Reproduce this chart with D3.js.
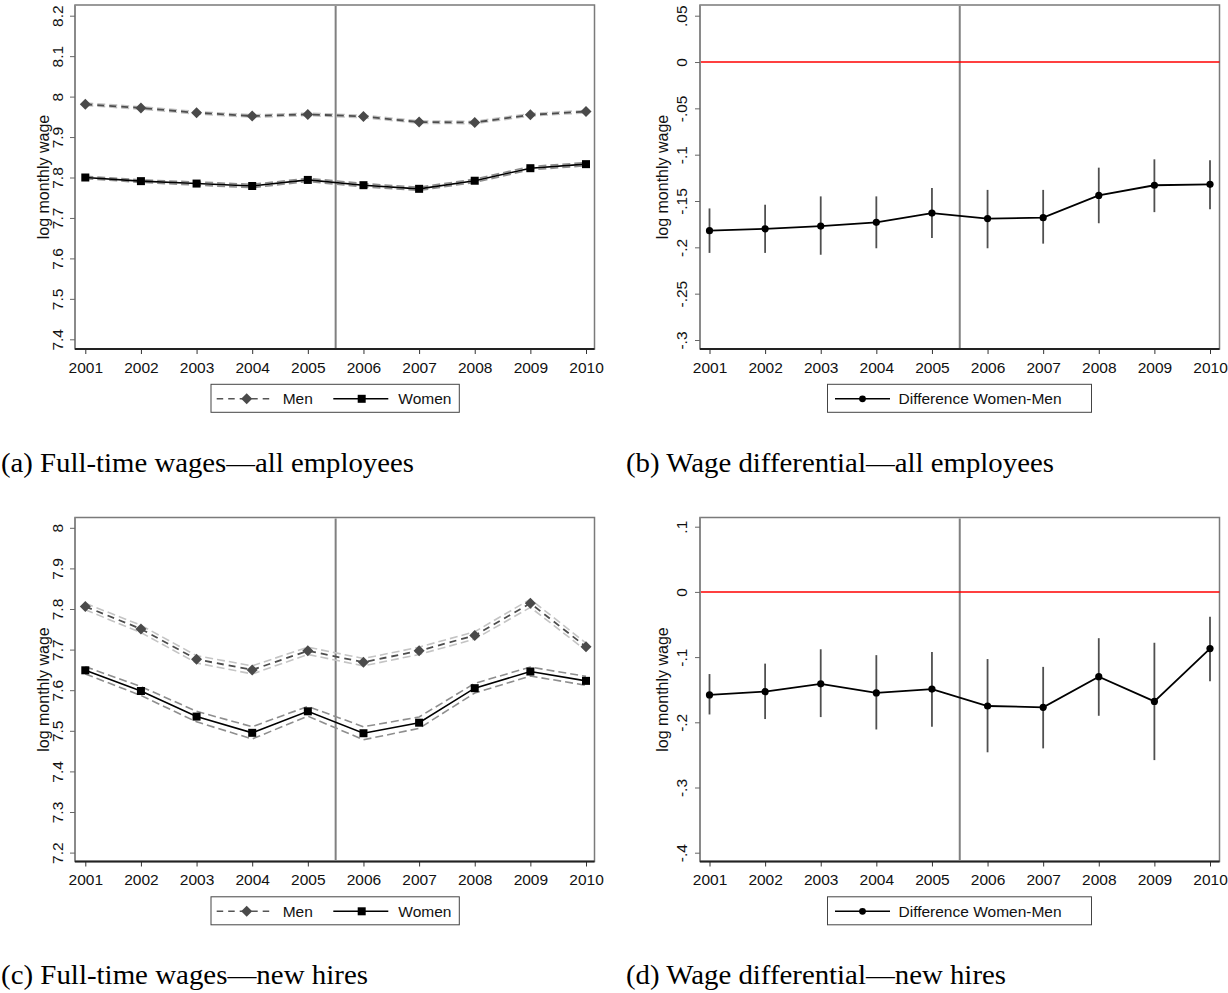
<!DOCTYPE html>
<html><head><meta charset="utf-8">
<script src="https://cdn.jsdelivr.net/npm/d3@7"></script>
<style>html,body{margin:0;padding:0;background:#fff;}svg{display:block;}</style>
</head><body>
<svg id="chart" width="1228" height="993"></svg>
<script>
const years = [2001,2002,2003,2004,2005,2006,2007,2008,2009,2010];

// Panel (a): full-time wages, all employees
const menA      = [7.981,7.972,7.960,7.952,7.956,7.951,7.937,7.936,7.955,7.963];
const menA_lo   = [7.978,7.969,7.957,7.949,7.953,7.948,7.934,7.933,7.952,7.960];
const menA_hi   = [7.984,7.975,7.963,7.955,7.959,7.954,7.940,7.939,7.958,7.966];
const womenA    = [7.800,7.791,7.785,7.779,7.794,7.781,7.772,7.792,7.823,7.833];
const womenA_lo = [7.797,7.788,7.781,7.775,7.790,7.777,7.768,7.788,7.819,7.829];
const womenA_hi = [7.803,7.794,7.789,7.783,7.798,7.785,7.776,7.796,7.827,7.837];

// Panel (c): full-time wages, new hires
const menC      = [7.806,7.751,7.676,7.650,7.697,7.669,7.697,7.735,7.814,7.707];
const menC_lo   = [7.798,7.742,7.667,7.640,7.688,7.660,7.688,7.726,7.804,7.698];
const menC_hi   = [7.814,7.760,7.685,7.660,7.706,7.678,7.706,7.744,7.824,7.716];
const womenC    = [7.649,7.598,7.535,7.495,7.548,7.494,7.520,7.605,7.646,7.623];
const womenC_lo = [7.640,7.587,7.522,7.480,7.536,7.478,7.506,7.593,7.635,7.612];
const womenC_hi = [7.658,7.609,7.548,7.510,7.560,7.510,7.534,7.617,7.657,7.634];

// Panel (b): wage differential, all employees
const diffB    = [-0.182,-0.180,-0.177,-0.173,-0.163,-0.169,-0.168,-0.144,-0.133,-0.132];
const diffB_lo = [-0.206,-0.206,-0.208,-0.201,-0.190,-0.201,-0.196,-0.174,-0.162,-0.159];
const diffB_hi = [-0.158,-0.154,-0.145,-0.145,-0.136,-0.138,-0.138,-0.114,-0.105,-0.106];

// Panel (d): wage differential, new hires
const diffD    = [-0.158,-0.153,-0.141,-0.155,-0.149,-0.175,-0.177,-0.130,-0.168,-0.087];
const diffD_lo = [-0.188,-0.195,-0.192,-0.211,-0.207,-0.246,-0.240,-0.190,-0.258,-0.137];
const diffD_hi = [-0.126,-0.110,-0.088,-0.097,-0.092,-0.103,-0.115,-0.071,-0.078,-0.038];

const ticksA = [7.4,7.5,7.6,7.7,7.8,7.9,8.0,8.1,8.2];
const tickLabelsA = ["7.4","7.5","7.6","7.7","7.8","7.9","8","8.1","8.2"];
const ticksC = [7.2,7.3,7.4,7.5,7.6,7.7,7.8,7.9,8.0];
const tickLabelsC = ["7.2","7.3","7.4","7.5","7.6","7.7","7.8","7.9","8"];
const ticksB = [0.05,0,-0.05,-0.1,-0.15,-0.2,-0.25,-0.3];
const tickLabelsB = [".05","0","-.05","-.1","-.15","-.2","-.25","-.3"];
const ticksD = [0.1,0,-0.1,-0.2,-0.3,-0.4];
const tickLabelsD = [".1","0","-.1","-.2","-.3","-.4"];

const yTitle = "log monthly wage";
const legendMen = "Men", legendWomen = "Women", legendDiff = "Difference Women-Men";
const captions = ["(a) Full-time wages\u2014all employees","(b) Wage differential\u2014all employees",
                  "(c) Full-time wages\u2014new hires","(d) Wage differential\u2014new hires"];

const svg = d3.select("#chart");
const SANS = "'Liberation Sans', Arial, sans-serif";
const SERIF = "'Liberation Serif', 'Times New Roman', serif";

function panel(opt){
  const {left, right, top, bottom, x0, x1, yDomain, yRange, ticks, labels, tickLabelOff, titleOff} = opt;
  const g = svg.append("g");
  const x = d3.scaleLinear().domain([2001,2010]).range([x0,x1]);
  const y = d3.scaleLinear().domain(yDomain).range(yRange);
  g.append("rect").attr("x",left).attr("y",top).attr("width",right-left).attr("height",bottom-top)
    .attr("fill","#fff").attr("stroke","#7a7a7a").attr("stroke-width",1.5);
  g.append("line").attr("x1",left).attr("x2",left).attr("y1",top).attr("y2",bottom)
    .attr("stroke","#8a8a8a").attr("stroke-width",2);
  const ya = d3.axisLeft(y).tickValues(ticks).tickSize(5).tickFormat((d,i)=>labels[i]);
  const yg = g.append("g").attr("transform",`translate(${left},0)`).call(ya);
  yg.select(".domain").remove();
  yg.selectAll(".tick line").attr("stroke","#666").attr("stroke-width",1);
  yg.selectAll(".tick text").attr("x",0).attr("dy",0).attr("text-anchor","middle")
    .attr("transform",`translate(${-tickLabelOff},0) rotate(-90)`)
    .attr("font-family",SANS).attr("font-size","15.5px").attr("fill","#111");
  g.append("text").attr("transform",`translate(${left-titleOff},${(top+bottom)/2}) rotate(-90)`)
    .attr("text-anchor","middle").attr("font-family",SANS).attr("font-size","16px").attr("fill","#111").text(yTitle);
  const xa = d3.axisBottom(x).tickValues(years).tickSize(5).tickFormat(d3.format("d"));
  const xg = g.append("g").attr("transform",`translate(0,${bottom})`).call(xa);
  xg.select(".domain").remove();
  xg.selectAll(".tick line").attr("stroke","#333").attr("stroke-width",1);
  xg.selectAll(".tick text").attr("y",23.5).attr("dy",0).attr("font-family",SANS).attr("font-size","15.5px").attr("fill","#111");
  g.append("line").attr("x1",left).attr("x2",right).attr("y1",bottom).attr("y2",bottom)
    .attr("stroke","#222").attr("stroke-width",2);
  return {g,x,y};
}

function vline(p, top, bottom){
  p.g.append("line").attr("x1",p.x(2005.5)).attr("x2",p.x(2005.5)).attr("y1",top+1).attr("y2",bottom-1)
    .attr("stroke","#808080").attr("stroke-width",2);
}

function diamond(g, cx, cy, r, fill){
  g.append("path").attr("d",`M${cx},${cy-r}L${cx+r},${cy}L${cx},${cy+r}L${cx-r},${cy}Z`).attr("fill",fill);
}

function wagesPanel(p, men, menLo, menHi, women, womenLo, womenHi){
  const line = d3.line().x((d,i)=>p.x(years[i])).y(d=>p.y(d));
  [menLo,menHi].forEach(arr=>p.g.append("path").attr("d",line(arr)).attr("fill","none")
      .attr("stroke","#c4c4c4").attr("stroke-width",1.6).attr("stroke-dasharray","8,4"));
  [womenLo,womenHi].forEach(arr=>p.g.append("path").attr("d",line(arr)).attr("fill","none")
      .attr("stroke","#8e8e8e").attr("stroke-width",1.6).attr("stroke-dasharray","8,4"));
  p.g.append("path").attr("d",line(men)).attr("fill","none").attr("stroke","#4d4d4d")
    .attr("stroke-width",1.8).attr("stroke-dasharray","7,5");
  p.g.append("path").attr("d",line(women)).attr("fill","none").attr("stroke","#000").attr("stroke-width",1.6);
  men.forEach((v,i)=>diamond(p.g,p.x(years[i]),p.y(v),5.5,"#4a4a4a"));
  women.forEach((v,i)=>p.g.append("rect").attr("x",p.x(years[i])-4).attr("y",p.y(v)-4)
      .attr("width",8).attr("height",8).attr("fill","#000"));
}

function diffPanel(p, d, lo, hi, left, right){
  p.g.append("line").attr("x1",left+1).attr("x2",right).attr("y1",p.y(0)).attr("y2",p.y(0))
    .attr("stroke","#ff0000").attr("stroke-width",1.5);
  d.forEach((v,i)=>p.g.append("line").attr("x1",p.x(years[i])).attr("x2",p.x(years[i]))
      .attr("y1",p.y(lo[i])).attr("y2",p.y(hi[i])).attr("stroke","#505050").attr("stroke-width",1.8));
  const line = d3.line().x((v,i)=>p.x(years[i])).y(v=>p.y(v));
  p.g.append("path").attr("d",line(d)).attr("fill","none").attr("stroke","#000").attr("stroke-width",1.8);
  d.forEach((v,i)=>p.g.append("circle").attr("cx",p.x(years[i])).attr("cy",p.y(v)).attr("r",3.6).attr("fill","#000"));
}

function legendWages(x0, y0){
  const g = svg.append("g");
  g.append("rect").attr("x",x0).attr("y",y0).attr("width",248.3).attr("height",28)
    .attr("fill","#fff").attr("stroke","#444").attr("stroke-width",1);
  const cy = y0+14.5;
  g.append("line").attr("x1",x0+5.7).attr("x2",x0+61.7).attr("y1",cy).attr("y2",cy)
    .attr("stroke","#555").attr("stroke-width",1.6).attr("stroke-dasharray","6.5,5");
  diamond(g,x0+35.7,cy,5.5,"#4a4a4a");
  g.append("text").attr("x",x0+71.7).attr("y",y0+20).attr("font-family",SANS).attr("font-size","15.5px").attr("fill","#111").text(legendMen);
  g.append("line").attr("x1",x0+122.3).attr("x2",x0+177.3).attr("y1",cy).attr("y2",cy)
    .attr("stroke","#000").attr("stroke-width",1.6);
  g.append("rect").attr("x",x0+150.7-4).attr("y",cy-4).attr("width",8).attr("height",8).attr("fill","#000");
  g.append("text").attr("x",x0+187.3).attr("y",y0+20).attr("font-family",SANS).attr("font-size","15.5px").attr("fill","#111").text(legendWomen);
}

function legendDiffBox(x0, y0){
  const g = svg.append("g");
  g.append("rect").attr("x",x0).attr("y",y0).attr("width",264).attr("height",28)
    .attr("fill","#fff").attr("stroke","#444").attr("stroke-width",1);
  const cy = y0+14.5;
  g.append("line").attr("x1",x0+7.5).attr("x2",x0+62.5).attr("y1",cy).attr("y2",cy)
    .attr("stroke","#000").attr("stroke-width",1.6);
  g.append("circle").attr("cx",x0+35).attr("cy",cy).attr("r",3.4).attr("fill","#000");
  g.append("text").attr("x",x0+71).attr("y",y0+20).attr("font-family",SANS).attr("font-size","15.5px").attr("fill","#111").text(legendDiff);
}

const DY = 512.5;
const pa = panel({left:75,right:594.5,top:5,bottom:349,x0:85.3,x1:586,yDomain:[7.4,8.2],yRange:[339.3,15.7],
  ticks:ticksA,labels:tickLabelsA,tickLabelOff:12.5,titleOff:26});
vline(pa,5,349);
wagesPanel(pa,menA,menA_lo,menA_hi,womenA,womenA_lo,womenA_hi);
const pb = panel({left:700,right:1219.5,top:5,bottom:349,x0:709.5,x1:1210,yDomain:[-0.3,0.05],yRange:[340,15.7],
  ticks:ticksB,labels:tickLabelsB,tickLabelOff:13,titleOff:32.5});
vline(pb,5,349);
diffPanel(pb,diffB,diffB_lo,diffB_hi,700,1219.5);
const pc = panel({left:75,right:594.5,top:5+DY,bottom:349+DY,x0:85.3,x1:586,yDomain:[7.2,8.0],yRange:[852.6,527.8],
  ticks:ticksC,labels:tickLabelsC,tickLabelOff:12.5,titleOff:26});
vline(pc,5+DY,349+DY);
wagesPanel(pc,menC,menC_lo,menC_hi,womenC,womenC_lo,womenC_hi);
const pd = panel({left:700,right:1219.5,top:5+DY,bottom:349+DY,x0:709.5,x1:1210,yDomain:[-0.4,0.1],yRange:[852.7,526.7],
  ticks:ticksD,labels:tickLabelsD,tickLabelOff:13,titleOff:32.5});
vline(pd,5+DY,349+DY);
diffPanel(pd,diffD,diffD_lo,diffD_hi,700,1219.5);

legendWages(211,384.3);
legendWages(211,384.3+DY);
legendDiffBox(827.5,384.3);
legendDiffBox(827.5,384.3+DY);

const capPos = [[1,471.7],[626,471.7],[1,471.7+DY],[626,471.7+DY]];
const capWidths = [413,428,367,380];
captions.forEach((c,i)=>svg.append("text").attr("x",capPos[i][0]).attr("y",capPos[i][1])
  .attr("font-family",SERIF).attr("font-size","27.5px").attr("fill","#000")
  .attr("textLength",capWidths[i]).attr("lengthAdjust","spacingAndGlyphs").text(c));
</script>
</body></html>
